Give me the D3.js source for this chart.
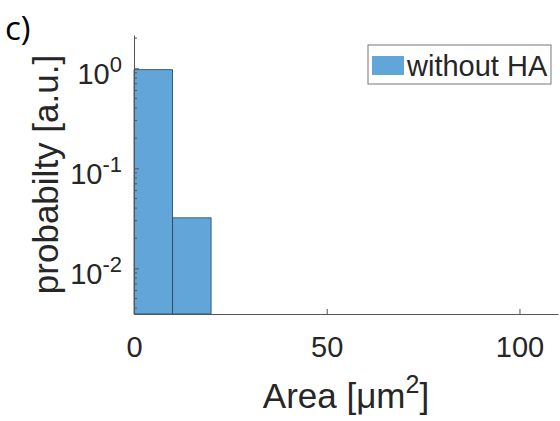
<!DOCTYPE html>
<html>
<head>
<meta charset="utf-8">
<script src="https://cdn.jsdelivr.net/npm/d3@7"></script>
<style>
  body { margin: 0; background: #fff; }
  text { font-family: "Liberation Sans", Arial, sans-serif; fill: #262626; }
</style>
</head>
<body>
<div id="chart"></div>
<script>
// histogram data (bin edges in um^2, probability per bin)
const binEdges = [0, 10, 20]
const probability = [0.968, 0.032]
const xTicks = [0, 50, 100]
const yTickExps = [0, -1, -2]
const seriesName = "without HA"

// size
const anchoTotal = 560
const altoTotal = 421

const margins = { top: 35, right: 2, bottom: 107, left: 134 }
const ancho = anchoTotal - margins.left - margins.right
const alto = altoTotal - margins.top - margins.bottom

const barColor = "#61a5d9"
const axisColor = "#555"

const svg = d3.select("#chart")
  .append("svg")
    .attr("width", anchoTotal)
    .attr("height", altoTotal)
    .style("background", "#fff")

const g = svg.append("g")
  .attr("transform", `translate(${margins.left},${margins.top})`)

// scales
const x = d3.scaleLinear().domain([0, 110]).range([0, ancho])
const y = d3.scaleLog().domain([0.0035, 2.15]).range([alto, 0])

// bars
const bins = probability.map((p, i) => ({ x0: binEdges[i], x1: binEdges[i + 1], p: p }))

g.selectAll("rect.bar")
  .data(bins)
  .enter()
  .append("rect")
    .attr("class", "bar")
    .attr("x", d => x(d.x0))
    .attr("width", d => x(d.x1) - x(d.x0))
    .attr("y", d => y(d.p))
    .attr("height", d => alto - y(d.p))
    .attr("fill", barColor)
    .attr("stroke", "#25435e")
    .attr("stroke-width", 0.8)

// x axis (ticks inside, MATLAB style)
const xAxis = g.append("g")
  .attr("transform", `translate(0,${alto})`)
  .call(d3.axisBottom(x).tickValues(xTicks).tickSizeInner(-5).tickSizeOuter(0).tickFormat(""))
xAxis.select(".domain").attr("stroke", axisColor)
xAxis.selectAll(".tick line").attr("stroke", axisColor)

xAxis.selectAll(".tick")
  .append("text")
    .attr("y", 43)
    .attr("text-anchor", "middle")
    .attr("font-size", 29)
    .text(d => d)

// y axis, log with minor ticks
const minorTicks = y.ticks().filter(v => Math.abs(Math.log10(v) - Math.round(Math.log10(v))) > 1e-6)
const majorTicks = yTickExps.map(e => Math.pow(10, e))

const yAxis = g.append("g")
  .call(d3.axisLeft(y).tickValues(majorTicks).tickSizeInner(-5).tickSizeOuter(0).tickFormat(""))
yAxis.select(".domain").attr("stroke", axisColor)
yAxis.selectAll(".tick line").attr("stroke", axisColor)

g.append("g")
  .selectAll("line")
  .data(minorTicks)
  .enter()
  .append("line")
    .attr("x1", 0)
    .attr("x2", 3)
    .attr("y1", d => y(d))
    .attr("y2", d => y(d))
    .attr("stroke", axisColor)

const yLab = yAxis.selectAll(".tick")
  .append("text")
    .attr("x", -12)
    .attr("y", 15)
    .attr("text-anchor", "end")
yLab.append("tspan").attr("font-size", 29).text("10")
yLab.append("tspan").attr("font-size", 22).attr("dy", -12).text(d => Math.round(Math.log10(d)))

// axis labels
const xLabel = svg.append("text")
  .attr("x", margins.left + ancho / 2)
  .attr("y", 408)
  .attr("text-anchor", "middle")
  .attr("font-size", 35)
xLabel.append("tspan").text("Area [μm")
xLabel.append("tspan").attr("font-size", 25).attr("dy", -15).text("2")
xLabel.append("tspan").attr("dy", 15).text("]")

svg.append("text")
  .attr("transform", `translate(58,${margins.top + alto / 2}) rotate(-90)`)
  .attr("text-anchor", "middle")
  .attr("font-size", 35)
  .text("probabilty [a.u.]")

// legend
const legend = svg.append("g").attr("transform", "translate(368,45)")
legend.append("rect")
  .attr("width", 183)
  .attr("height", 39)
  .attr("fill", "#fff")
  .attr("stroke", "#777")
legend.append("rect")
  .attr("x", 4)
  .attr("y", 11)
  .attr("width", 32)
  .attr("height", 19)
  .attr("fill", barColor)
legend.append("text")
  .attr("x", 39)
  .attr("y", 31)
  .attr("font-size", 29)
  .text(seriesName)

// panel letter
svg.append("text")
  .attr("x", 5)
  .attr("y", 40)
  .attr("font-size", 33)
  .style("font-family", "'Open Sans', sans-serif")
  .style("fill", "#000")
  .text("c)")
</script>
</body>
</html>
